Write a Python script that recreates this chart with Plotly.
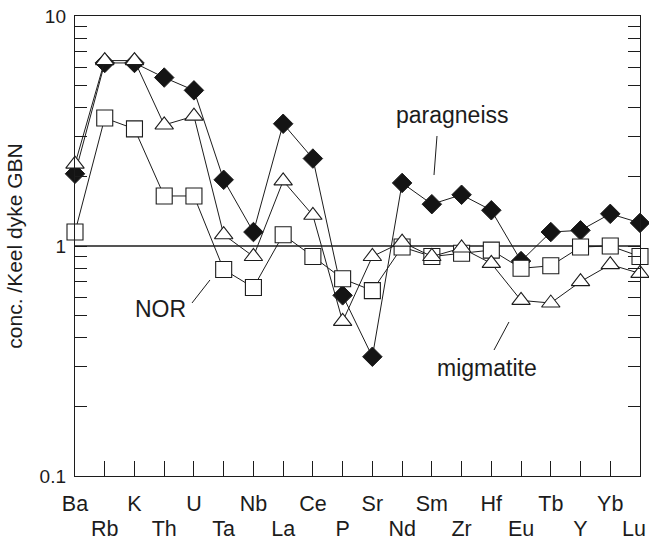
import plotly.graph_objects as go

# Element order along the x axis
elements = ["Ba", "Rb", "K", "Th", "U", "Ta", "Nb", "La", "Ce", "P",
            "Sr", "Nd", "Sm", "Zr", "Hf", "Eu", "Tb", "Y", "Yb", "Lu"]

# Concentrations normalised to Keel dyke GBN
paragneiss = [2.06, 6.25, 6.25, 5.4, 4.75, 1.94, 1.15, 3.4, 2.4, 0.61,
              0.33, 1.88, 1.52, 1.67, 1.43, 0.86, 1.15, 1.17, 1.38, 1.26]
nor = [1.15, 3.6, 3.23, 1.65, 1.65, 0.79, 0.66, 1.12, 0.9, 0.72,
       0.64, 0.99, 0.9, 0.93, 0.96, 0.8, 0.82, 0.99, 1.0, 0.9]
migmatite = [2.27, 6.4, 6.4, 3.36, 3.67, 1.12, 0.9, 1.92, 1.36, 0.47,
             0.9, 1.04, 0.9, 0.98, 0.84, 0.58, 0.565, 0.7, 0.83, 0.76]

reference_level = 1.0

y_major = [0.1, 1, 10]
y_major_text = ["0.1", "1", "10"]
y_minor = [0.2, 0.3, 0.4, 0.5, 0.6, 0.7, 0.8, 0.9, 2, 3, 4, 5, 6, 7, 8, 9]

INK = "#1c1c1c"
FONT = "Liberation Sans, Arial, Helvetica, sans-serif"

xs = list(range(len(elements)))
# labels are staggered over two rows: even positions on the upper row,
# odd positions on an overlaid axis further down; the last one (on the
# right frame edge) gets its own axis so it can be nudged inwards
upper_vals = xs[0::2]
upper_text = elements[0::2]
lower_vals = xs[1:-1:2]
lower_text = elements[1:-1:2]
edge_vals = [xs[-1]]
edge_text = [elements[-1]]

fig = go.Figure()

# normalisation line at 1
fig.add_trace(go.Scatter(x=[xs[0], xs[-1]], y=[reference_level, reference_level],
                         mode="lines", line=dict(color=INK, width=1.6),
                         hoverinfo="skip", showlegend=False, cliponaxis=False))

fig.add_trace(go.Scatter(
    x=xs, y=paragneiss, mode="lines+markers", name="paragneiss",
    line=dict(color=INK, width=1),
    marker=dict(symbol="diamond", size=15, color="#141414",
                line=dict(color=INK, width=1)),
    cliponaxis=False, showlegend=False))

fig.add_trace(go.Scatter(
    x=xs, y=nor, mode="lines+markers", name="NOR", xaxis="x2",
    line=dict(color=INK, width=1),
    marker=dict(symbol="square", size=16, color="white",
                line=dict(color=INK, width=1.1)),
    cliponaxis=False, showlegend=False))

fig.add_trace(go.Scatter(
    x=xs, y=migmatite, mode="lines+markers", name="migmatite", xaxis="x3",
    line=dict(color=INK, width=1),
    marker=dict(symbol="triangle-up", size=16, color="white",
                line=dict(color=INK, width=1.1)),
    cliponaxis=False, showlegend=False))

# labels with leader lines
labels = [
    ("paragneiss", 0.6673, 0.7837, (0.6407, 0.7391, 0.6354, 0.6543)),
    ("NOR", 0.1522, 0.3641, (0.2071, 0.3761, 0.2389, 0.4261)),
    ("migmatite", 0.7292, 0.2348, (0.7416, 0.2739, 0.7681, 0.3348)),
]
for text, tx, ty, (x0, y0, x1, y1) in labels:
    fig.add_annotation(text=text, x=tx, y=ty, xref="paper", yref="paper",
                       showarrow=False, xanchor="center", yanchor="middle",
                       font=dict(family=FONT, size=23, color=INK))
    fig.add_shape(type="line", xref="paper", yref="paper",
                  x0=x0, y0=y0, x1=x1, y1=y1,
                  line=dict(color=INK, width=1))

tick_font = dict(family=FONT, size=21.5, color=INK)
x_range = [xs[0], xs[-1]]

fig.update_layout(
    xaxis=dict(
        range=x_range, tickmode="array", tickvals=xs,
        ticktext=[e if i % 2 == 0 else "" for i, e in enumerate(elements)],
        tickangle=0, ticks="inside", ticklen=15, tickwidth=1.2, tickcolor=INK,
        showline=True, linecolor=INK, linewidth=1.4, mirror=True,
        showgrid=False, zeroline=False, tickfont=tick_font,
        ticklabelstandoff=8, ticklabeloverflow="allow"),
    xaxis2=dict(
        overlaying="x", anchor="y", side="bottom",
        range=x_range, tickmode="array", tickvals=lower_vals,
        ticktext=lower_text, tickangle=0, ticks="",
        showline=False, showgrid=False, zeroline=False, tickfont=tick_font,
        ticklabelstandoff=37, ticklabeloverflow="allow"),
    xaxis3=dict(
        overlaying="x", anchor="y", side="bottom",
        range=x_range, tickmode="array", tickvals=edge_vals,
        ticktext=edge_text, tickangle=0, ticks="",
        showline=False, showgrid=False, zeroline=False, tickfont=tick_font,
        ticklabelstandoff=37, ticklabelshift=-6, ticklabeloverflow="allow"),
    yaxis=dict(
        type="log", range=[-1, 1], tickmode="array", tickvals=y_major,
        ticktext=y_major_text, ticks="inside", ticklen=12, tickwidth=1.2,
        tickcolor=INK, minor=dict(tickvals=y_minor, ticks="inside", ticklen=12,
                                  tickwidth=1.2, tickcolor=INK, showgrid=False),
        showline=True, linecolor=INK, linewidth=1.4, mirror="ticks",
        showgrid=False, zeroline=False,
        tickfont=dict(family=FONT, size=19, color=INK), ticklabelstandoff=4,
        title=dict(text="conc. /Keel dyke GBN", standoff=11,
                   font=dict(family=FONT, size=21, color=INK))),
    width=649, height=541, autosize=False,
    margin=dict(l=75, r=9, t=16, b=65, autoexpand=False),
    paper_bgcolor="white", plot_bgcolor="white",
    font=dict(family=FONT, color=INK),
)

fig.write_html("out.html")
